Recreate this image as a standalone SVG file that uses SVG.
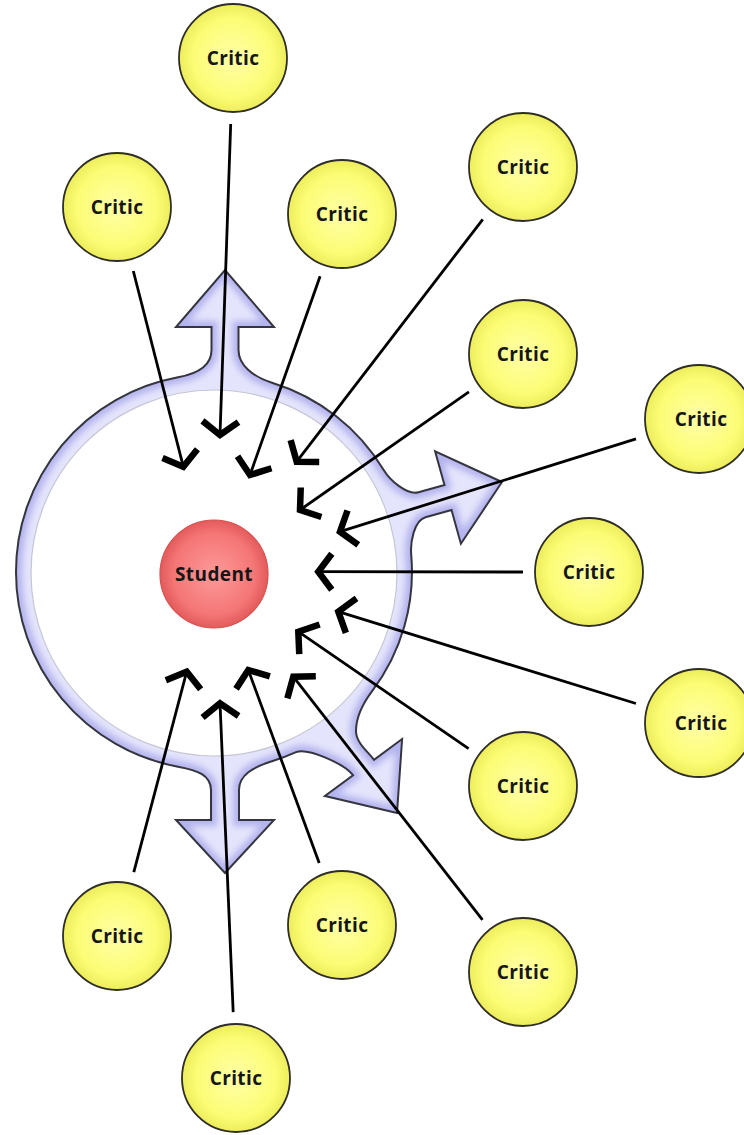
<svg xmlns="http://www.w3.org/2000/svg" xmlns:xlink="http://www.w3.org/1999/xlink" width="744" height="1135" viewBox="0 0 744 1135">
  <defs>
    <style>
      .critic-disc { fill: url(#criticFill); stroke: #2e2e26; stroke-width: 1.8; }
      .label { font-family: "Open Sans", "Liberation Sans", sans-serif; font-weight: 700; font-size: 19px; fill: #161616; text-anchor: middle; letter-spacing: 0.4px; }
      .conn { stroke: #000; stroke-width: 2.8; fill: none; marker-end: url(#chevron); }
    </style>
    <radialGradient id="criticFill" cx="50%" cy="50%" r="50%">
      <stop offset="0" stop-color="#ffffa8"/>
      <stop offset="0.75" stop-color="#fcfc74"/>
      <stop offset="1" stop-color="#ecec5c"/>
    </radialGradient>
    <radialGradient id="studentFill" cx="50%" cy="50%" r="50%">
      <stop offset="0" stop-color="#fd9a9a"/>
      <stop offset="0.75" stop-color="#f57676"/>
      <stop offset="1" stop-color="#e35b5b"/>
    </radialGradient>
    <marker id="chevron" markerUnits="userSpaceOnUse" orient="auto" refX="0" refY="0" markerWidth="40" markerHeight="40" overflow="visible">
      <path d="M-13.5,-18 L0,0 L-13.5,18" fill="none" stroke="#000" stroke-width="6.5" stroke-linejoin="miter"/>
    </marker>
    <!-- band around the student with four outgoing arrows -->
    <path id="bandShape" d="M 178 377.3
      C 197.7 373.7 211.5 365 211.5 350
      L 211.5 327 L 176 327 L 225 270 L 274 327 L 238.5 327 L 238.5 350
      C 238.5 365 252.9 376.8 272 382.7
      A 198 198 0 0 1 383.7 470
      C 389.9 480.3 406.9 495.4 418.5 492.2
      L 444.5 485 L 435.1 451.3 L 502 482 L 460.9 543.7 L 451.5 510 L 425.5 517.2
      C 413.9 520.4 410.2 542.7 411.2 554.7
      A 198 198 0 0 1 372.1 691.2
      C 363.1 703.2 356 716 356 731
      C 356 743 368.1 751.8 374 759.8
      L 402.1 739 L 397 813 L 324.9 796 L 353 775.2
      C 344.7 763.9 306.9 747.2 296 752.2
      A 198 198 0 0 1 272 761.3
      C 252.9 767.2 239 775 239 790
      L 239 820 L 274 820 L 225 873 L 176 820 L 211 820 L 211 790
      C 211 775 197.7 770.3 178 766.7
      A 198 198 0 0 1 178 377.3 Z"/>
    <clipPath id="bandClip">
      <use xlink:href="#bandShape"/>
    </clipPath>
    <filter id="soft" x="-10%" y="-10%" width="120%" height="120%">
      <feGaussianBlur stdDeviation="3"/>
    </filter>
  </defs>

  <rect width="744" height="1135" fill="#ffffff"/>

  <!-- lavender band -->
  <g id="band">
    <use xlink:href="#bandShape" fill="#e4e4fc"/>
    <g clip-path="url(#bandClip)">
      <use xlink:href="#bandShape" fill="none" stroke="#b4b4ee" stroke-width="12" filter="url(#soft)"/>
    </g>
    <use xlink:href="#bandShape" fill="none" stroke="#35353f" stroke-width="2"/>
    <circle cx="214" cy="573" r="183" fill="#ffffff" stroke="#c6c6d6" stroke-width="1.2"/>
  </g>

  <!-- critic connectors -->
  <g id="connectors">
    <line class="conn" x1="230.7" y1="124" x2="220" y2="435"/>
    <line class="conn" x1="133.3" y1="271" x2="183.3" y2="466.7"/>
    <line class="conn" x1="320.1" y1="276.3" x2="250" y2="475"/>
    <line class="conn" x1="482.8" y1="219.3" x2="296.7" y2="461.7"/>
    <line class="conn" x1="468.9" y1="391.8" x2="300" y2="510"/>
    <line class="conn" x1="636" y1="438.8" x2="340" y2="531.7"/>
    <line class="conn" x1="523" y1="572" x2="318.3" y2="571.7"/>
    <line class="conn" x1="635.9" y1="703.5" x2="338.3" y2="611.7"/>
    <line class="conn" x1="468.6" y1="748.6" x2="298.3" y2="631.7"/>
    <line class="conn" x1="482.5" y1="919.9" x2="293.3" y2="676.7"/>
    <line class="conn" x1="319.2" y1="863.1" x2="248.3" y2="670"/>
    <line class="conn" x1="133.8" y1="872.2" x2="186.7" y2="671.7"/>
    <line class="conn" x1="233.2" y1="1012.1" x2="220" y2="703.3"/>
  </g>

  <g id="student">
    <circle cx="214" cy="574" r="54" fill="url(#studentFill)" stroke="#d65050" stroke-width="1.2"/>
    <text class="label" x="214" y="581">Student</text>
  </g>

  <g id="critic-1"><circle class="critic-disc" cx="233" cy="58" r="54"/><text class="label" x="233" y="65">Critic</text></g>
  <g id="critic-2"><circle class="critic-disc" cx="117" cy="207" r="54"/><text class="label" x="117" y="214">Critic</text></g>
  <g id="critic-3"><circle class="critic-disc" cx="342" cy="214" r="54"/><text class="label" x="342" y="221">Critic</text></g>
  <g id="critic-4"><circle class="critic-disc" cx="523" cy="167" r="54"/><text class="label" x="523" y="174">Critic</text></g>
  <g id="critic-5"><circle class="critic-disc" cx="523" cy="354" r="54"/><text class="label" x="523" y="361">Critic</text></g>
  <g id="critic-6"><circle class="critic-disc" cx="699" cy="419" r="54"/><text class="label" x="701" y="426">Critic</text></g>
  <g id="critic-7"><circle class="critic-disc" cx="589" cy="572" r="54"/><text class="label" x="589" y="579">Critic</text></g>
  <g id="critic-8"><circle class="critic-disc" cx="699" cy="723" r="54"/><text class="label" x="701" y="730">Critic</text></g>
  <g id="critic-9"><circle class="critic-disc" cx="523" cy="786" r="54"/><text class="label" x="523" y="793">Critic</text></g>
  <g id="critic-10"><circle class="critic-disc" cx="523" cy="972" r="54"/><text class="label" x="523" y="979">Critic</text></g>
  <g id="critic-11"><circle class="critic-disc" cx="342" cy="925" r="54"/><text class="label" x="342" y="932">Critic</text></g>
  <g id="critic-12"><circle class="critic-disc" cx="117" cy="936" r="54"/><text class="label" x="117" y="943">Critic</text></g>
  <g id="critic-13"><circle class="critic-disc" cx="236" cy="1078" r="54"/><text class="label" x="236" y="1085">Critic</text></g>
</svg>
